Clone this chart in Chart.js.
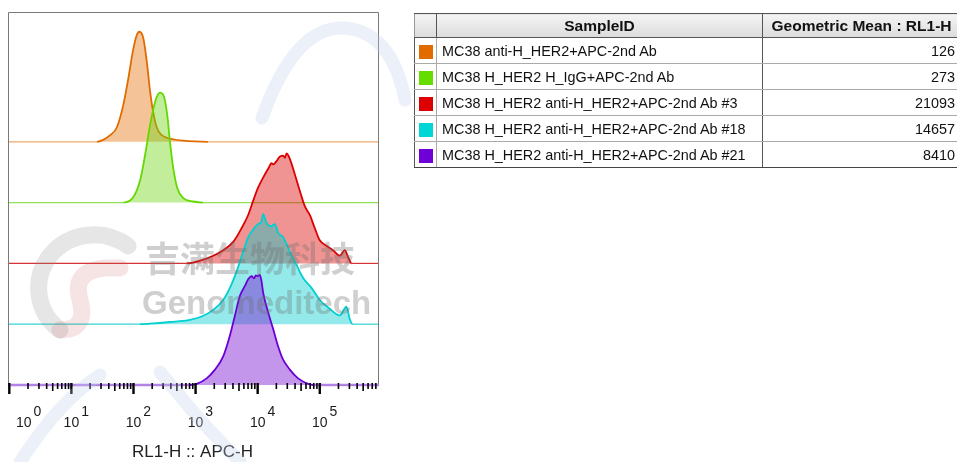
<!DOCTYPE html>
<html><head><meta charset="utf-8">
<script src="https://cdn.jsdelivr.net/npm/chart.js@4.4.0/dist/chart.umd.min.js"></script>
<style>
html,body{margin:0;padding:0;background:#fff;width:957px;height:462px;overflow:hidden;position:relative;font-family:Arial,"Liberation Sans",sans-serif;}
#chartBox{position:absolute;left:0;top:0;width:400px;height:462px;}
#wm{position:absolute;left:0;top:0;width:957px;height:462px;pointer-events:none;}
.wmtxt{position:absolute;color:rgba(110,110,110,0.33);font-weight:bold;white-space:nowrap;pointer-events:none;line-height:1;}
table{position:absolute;left:414px;top:13px;border-collapse:collapse;table-layout:fixed;width:546px;font-size:14.4px;color:#111;}
td,th{padding:0;overflow:hidden;white-space:nowrap;}
th{height:23px;background:linear-gradient(#f4f4f4,#dcdcdc);font-weight:bold;font-size:15.5px;border:1px solid #555;border-left-color:#999;}
tr.r td{height:25px;border-top:1px solid #aaa;border-bottom:1px solid #aaa;}
td.c{border-left:1px solid #555;border-right:1px solid #aaa;text-align:center;}
td.n{padding-left:5px;border-right:1px solid #555;}
td.v{text-align:right;padding-right:5px;border-right:1px solid #555;}
tr.last td{border-bottom:1px solid #444;}
.sq{display:inline-block;width:14px;height:14px;vertical-align:middle;}
</style></head>
<body>
<div id="chartBox"><canvas id="c"></canvas></div>
<svg id="wm" width="957" height="462" viewBox="0 0 957 462">
 <g fill="none" stroke="rgba(190,205,235,0.3)" stroke-width="13" stroke-linecap="round">
  <path d="M 262 118 Q 295 25 345 28 Q 392 32 405 100"/>
  <path d="M 20 462 Q 60 400 100 375"/>
  <path d="M 160 372 L 200 420 L 240 462"/>
 </g>
 <g fill="none" stroke-width="17" stroke-linecap="round">
  <path d="M 128 246 A 50 48 0 1 0 60 330" stroke="rgba(140,140,140,0.22)"/>
  <path d="M 120 268 Q 70 265 80 300 Q 88 330 60 330" stroke="rgba(200,90,90,0.16)"/>
 </g>
</svg>
<div class="wmtxt" style="left:145px;top:239px;font-size:35px;font-family:'Noto Sans CJK SC',sans-serif;">吉满生物科技</div>
<div class="wmtxt" style="left:142px;top:286px;font-size:33px;font-family:Arial,'Liberation Sans',sans-serif;">Genomeditech</div>
<table id="tbl">
 <colgroup><col style="width:22px"><col style="width:326px"><col style="width:198px"></colgroup>
 <thead><tr><th></th><th>SampleID</th><th>Geometric Mean : RL1-H</th></tr></thead>
 <tbody id="tb"></tbody>
</table>
<script>
// ---- data (x in log10 units of RL1-H, y in % of mode) ----
const xMin = -0.021, xMax = 5.954;
const decades = [0, 1, 2, 3, 4, 5];
const sampleIDs = [
  "MC38 anti-H_HER2+APC-2nd Ab",
  "MC38 H_HER2 H_IgG+APC-2nd Ab",
  "MC38 H_HER2 anti-H_HER2+APC-2nd Ab #3",
  "MC38 H_HER2 anti-H_HER2+APC-2nd Ab #18",
  "MC38 H_HER2 anti-H_HER2+APC-2nd Ab #21"
];
const geoMeans = [126, 273, 21093, 14657, 8410];

const orangeX = [1.41,1.52,1.624,1.731,1.838,1.918,1.989,2.053,2.095,2.159,2.214,2.267,2.320,2.375,2.455,2.588,2.797,3.199];
const orangeY = [0,2,6,13,34,58,82,97,100,94,73,46,26,13,6,3,1,0];

const greenX = [1.838,1.998,2.106,2.186,2.256,2.320,2.375,2.428,2.492,2.545,2.588,2.641,2.706,2.802,2.963,3.119];
const greenY = [0,5,20,43,67,85,96,100,96,79,55,31,13,4,1,0];

const redX = [2.862,3.071,3.285,3.445,3.606,3.741,3.847,3.928,4.008,4.088,4.169,4.223,4.250,4.304,4.330,4.357,4.410,4.440,4.465,4.518,4.598,4.678,4.759,4.839,4.920,5.000,5.108,5.214,5.322,5.402,5.455,5.514];
const redY = [0,2.5,7,12,19.5,32,44,57,69,78,86,91,90,93,95,97,98,96,100,95,81,66,52,44,32,21,16,12,7,12,6,0];

const cyanX = [2.10,2.267,2.588,2.910,3.098,3.285,3.445,3.553,3.661,3.767,3.847,3.928,4.008,4.060,4.088,4.143,4.223,4.277,4.330,4.410,4.518,4.625,4.732,4.867,5.000,5.161,5.322,5.429,5.482,5.531];
const cyanY = [0,0.5,2,4,7,13,22,33,48,66,79,86,91,93,100,92,89,91,83,79,66,54,42,33,22,14,8,16,5,0];

const purpleX = [2.910,3.018,3.178,3.312,3.445,3.553,3.633,3.714,3.794,3.847,3.902,3.940,3.971,4.000,4.035,4.060,4.088,4.169,4.249,4.330,4.410,4.518,4.651,4.812,4.892];
const purpleY = [0,1,6,14,26,45,63,81,90,96,99,97,99.5,99,100,95,84,66,51,35,23,14,6,1,0];

// ---- styling ----
const lineCols = ['#e06c00','#64d800','#dd0000','#00d0d0','#6c00d4'];
const fillCols = ['rgba(228,112,10,0.42)','rgba(110,215,20,0.42)','rgba(220,10,10,0.44)','rgba(0,205,205,0.42)','rgba(125,25,212,0.46)'];
const baseCols = ['rgba(236,150,80,0.85)','rgba(120,215,40,0.8)','rgba(210,30,30,0.9)','rgba(30,205,205,0.9)','rgba(160,100,225,0.8)'];
const sqCols = ['#e06c00','#66dd00','#dd0000','#00d6d6','#7000d8'];
const xs = [orangeX, greenX, redX, cyanX, purpleX];
const ys = [orangeY, greenY, redY, cyanY, purpleY];
const SPACING_PX = 60.8, TOP = 12, BOTTOM = 385;
const yMax = (BOTTOM - TOP) / SPACING_PX;
const PEAK = 1.81;

const datasets = xs.map((xArr, i) => {
  const base = 4 - i;
  const pts = [{x: xMin, y: base}];
  xArr.forEach((xv, k) => pts.push({x: xv, y: base + ys[i][k] / 100 * PEAK}));
  pts.push({x: xMax, y: base});
  return {
    label: sampleIDs[i],
    data: pts,
    order: 5 - i,
    borderColor: lineCols[i],
    backgroundColor: fillCols[i],
    borderWidth: 1.8,
    fill: {value: base},
    pointRadius: 0,
    cubicInterpolationMode: 'monotone',
    clip: 4,
    segment: {
      borderColor: c => (c.p0.parsed.y <= base + 1e-6 && c.p1.parsed.y <= base + 1e-6) ? baseCols[i] : undefined,
      borderWidth: c => (c.p0.parsed.y <= base + 1e-6 && c.p1.parsed.y <= base + 1e-6) ? (i === 4 ? 2.6 : 1.2) : undefined
    }
  };
});

const axisPlugin = {
  id: 'flowAxis',
  afterDraw(chart) {
    const {ctx, chartArea: a, scales: {x}} = chart;
    ctx.save();
    ctx.strokeStyle = '#7a7a7a'; ctx.lineWidth = 1;
    ctx.beginPath();
    ctx.moveTo(a.left + 0.5, a.bottom - 1);
    ctx.lineTo(a.left + 0.5, a.top + 0.5);
    ctx.lineTo(a.right - 0.5, a.top + 0.5);
    ctx.lineTo(a.right - 0.5, a.bottom - 1);
    ctx.stroke();
    ctx.strokeStyle = '#000';
    const y0 = a.bottom - 2;
    decades.forEach(d => {
      for (let m = 1; m <= 9; m++) {
        const v = d + Math.log10(m);
        if (v > xMax) break;
        const px = x.getPixelForValue(v);
        const len = m === 1 ? 11 : (m === 5 ? 8 : 6);
        ctx.lineWidth = m === 1 ? 2.4 : 1.6;
        ctx.beginPath(); ctx.moveTo(px, y0); ctx.lineTo(px, y0 + len); ctx.stroke();
      }
    });
    ctx.fillStyle = '#1a1a1a';
    ctx.font = '14px Arial, "Liberation Sans", sans-serif';
    ctx.textBaseline = 'alphabetic';
    decades.forEach((d, k) => {
      const px = x.getPixelForValue(d);
      const w = ctx.measureText('10').width;
      let left = px - w / 2;
      if (k === 0) left = px + 6.7;
      ctx.textAlign = 'left';
      ctx.fillText('10', left, 427);
      ctx.fillText(String(d), left + w + 2, 415.5);
    });
    ctx.font = '17px Arial, "Liberation Sans", sans-serif';
    ctx.textAlign = 'center';
    ctx.fillStyle = '#222';
    ctx.fillText('RL1-H :: APC-H', 192.5, 457);
    ctx.restore();
  }
};

new Chart(document.getElementById('c'), {
  type: 'line',
  data: {datasets},
  options: {
    responsive: true, maintainAspectRatio: false, animation: false,
    layout: {padding: {left: 8, top: TOP, right: 21, bottom: 462 - BOTTOM}},
    plugins: {legend: {display: false}, tooltip: {enabled: false}},
    scales: {
      x: {type: 'linear', min: xMin, max: xMax, display: false},
      y: {type: 'linear', min: 0, max: yMax, display: false}
    }
  },
  plugins: [axisPlugin]
});

// table
const tb = document.getElementById('tb');
sampleIDs.forEach((s, i) => {
  const tr = document.createElement('tr');
  tr.className = 'r' + (i === sampleIDs.length - 1 ? ' last' : '');
  tr.innerHTML = '<td class="c"><span class="sq" style="background:' + sqCols[i] + '"></span></td><td class="n">' + s + '</td><td class="v">' + geoMeans[i] + '</td>';
  tb.appendChild(tr);
});
</script>
</body></html>
